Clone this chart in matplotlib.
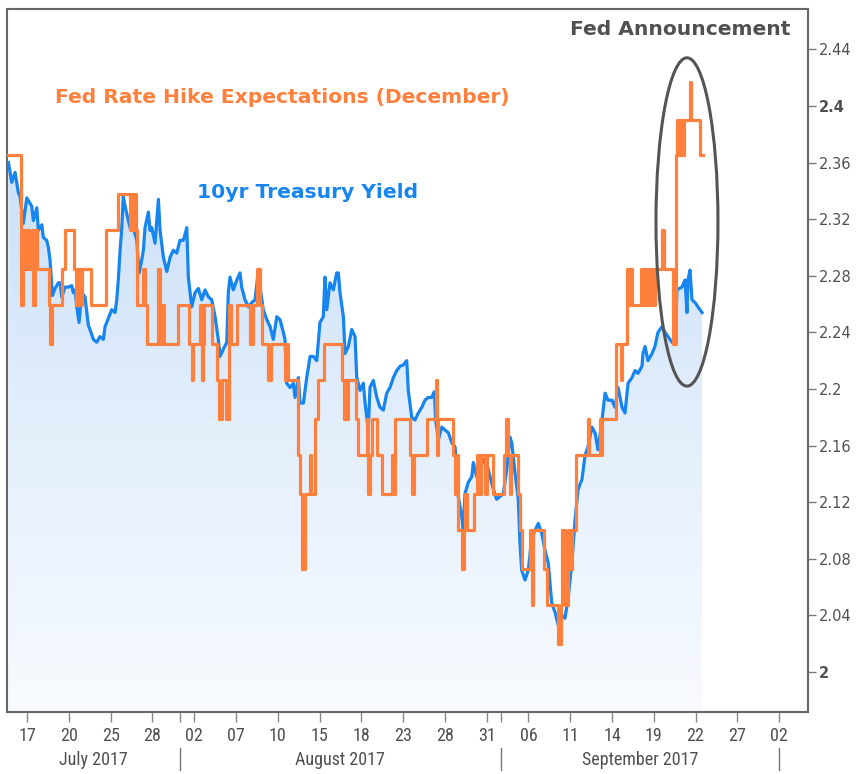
import numpy as np
import matplotlib
matplotlib.use('Agg')
import matplotlib.pyplot as plt
from matplotlib.patches import Ellipse, Polygon
from matplotlib.colors import LinearSegmentedColormap
from matplotlib import font_manager
import matplotlib.transforms as mtransforms

# time axis: business days, 0 = Mon 17 Jul 2017 (Labor Day not counted)
yield_t = [-1.34, -1.10, -0.86, -0.63, -0.50, -0.27, -0.02, 0.34, 0.45, 0.70,
           0.81, 1.06, 1.17, 1.41, 1.53, 1.65, 1.82, 2.01, 2.25, 2.37,
           2.49, 2.73, 2.97, 3.21, 3.32, 3.45, 3.57, 3.73, 3.93, 4.16,
           4.29, 4.40, 4.52, 4.76, 5.00, 5.24, 5.48, 5.60, 5.84, 6.08,
           6.32, 6.44, 6.55, 6.68, 6.80, 6.91, 7.04, 7.27, 7.39, 7.63,
           7.88, 8.04, 8.23, 8.35, 8.47, 8.71, 8.83, 8.95, 9.19, 9.43,
           9.55, 9.79, 10.03, 10.27, 10.50, 10.75, 10.98, 11.22, 11.47, 11.58,
           11.82, 12.06, 12.30, 12.54, 12.78, 13.02, 13.26, 13.50, 13.73, 13.86,
           14.09, 14.34, 14.45, 14.57, 14.81, 15.06, 15.29, 15.41, 15.65, 15.89,
           16.13, 16.37, 16.61, 16.73, 16.96, 17.21, 17.45, 17.68, 17.93, 18.16,
           18.40, 18.52, 18.64, 18.88, 19.12, 19.24, 19.48, 19.60, 19.84, 20.08,
           20.32, 20.55, 20.80, 21.03, 21.27, 21.39, 21.52, 21.75, 21.99, 22.23,
           22.35, 22.47, 22.71, 22.83, 23.07, 23.31, 23.55, 23.67, 23.91, 24.14,
           24.27, 24.50, 24.62, 24.86, 25.11, 25.34, 25.58, 25.82, 26.06, 26.30,
           26.54, 26.78, 27.02, 27.26, 27.37, 27.62, 27.85, 28.09, 28.34, 28.57,
           28.81, 29.05, 29.24, 29.34, 29.53, 29.77, 30.01, 30.25, 30.49, 30.73,
           30.85, 30.96, 31.21, 31.32, 31.44, 31.68, 31.93, 32.04, 32.28, 32.52,
           32.76, 33.00, 33.24, 33.48, 33.72, 33.96, 34.19, 34.44, 34.67, 34.80,
           35.03, 35.27, 35.39, 35.51, 35.75, 35.99, 36.23, 36.47, 36.71, 36.95,
           37.19, 37.42, 37.67, 37.91, 38.14, 38.39, 38.62, 38.84, 39.13, 39.34,
           39.56, 39.84, 40.06, 40.27, 40.56, 40.78, 40.99, 41.28, 41.50, 41.71,
           42.00, 42.21, 42.43, 42.72, 42.93, 43.15, 43.43, 43.65, 43.86, 44.15,
           44.22, 44.37, 44.58, 44.87, 45.08, 45.30, 45.59, 45.80, 46.02, 46.30,
           46.52, 46.66, 47.02, 47.24, 47.38, 47.45, 47.60, 47.74, 47.96, 48.17,
           48.46]
yield_v = [2.360, 2.346, 2.353, 2.339, 2.336, 2.317, 2.335, 2.329, 2.319, 2.328,
           2.312, 2.316, 2.307, 2.305, 2.300, 2.291, 2.266, 2.271, 2.275, 2.275,
           2.265, 2.272, 2.272, 2.273, 2.268, 2.270, 2.258, 2.247, 2.268, 2.265,
           2.254, 2.245, 2.242, 2.235, 2.233, 2.237, 2.235, 2.244, 2.250, 2.256,
           2.254, 2.263, 2.277, 2.298, 2.314, 2.336, 2.329, 2.319, 2.314, 2.314,
           2.305, 2.282, 2.291, 2.298, 2.314, 2.325, 2.312, 2.314, 2.303, 2.334,
           2.312, 2.293, 2.283, 2.293, 2.298, 2.296, 2.305, 2.305, 2.314, 2.279,
           2.258, 2.268, 2.271, 2.263, 2.270, 2.265, 2.263, 2.251, 2.235, 2.223,
           2.228, 2.233, 2.268, 2.279, 2.270, 2.277, 2.282, 2.272, 2.263, 2.258,
           2.261, 2.263, 2.284, 2.272, 2.256, 2.249, 2.244, 2.235, 2.251, 2.249,
           2.240, 2.235, 2.204, 2.201, 2.204, 2.194, 2.208, 2.190, 2.190, 2.208,
           2.223, 2.223, 2.220, 2.247, 2.251, 2.279, 2.256, 2.275, 2.270, 2.282,
           2.282, 2.268, 2.251, 2.225, 2.230, 2.242, 2.237, 2.208, 2.199, 2.204,
           2.190, 2.171, 2.201, 2.206, 2.194, 2.187, 2.185, 2.197, 2.201, 2.208,
           2.213, 2.216, 2.217, 2.220, 2.199, 2.180, 2.178, 2.183, 2.187, 2.192,
           2.194, 2.194, 2.198, 2.178, 2.164, 2.173, 2.171, 2.169, 2.162, 2.159,
           2.143, 2.124, 2.110, 2.100, 2.126, 2.134, 2.138, 2.148, 2.138, 2.143,
           2.150, 2.148, 2.138, 2.129, 2.122, 2.124, 2.126, 2.143, 2.166, 2.162,
           2.141, 2.122, 2.091, 2.072, 2.065, 2.072, 2.095, 2.100, 2.105, 2.098,
           2.086, 2.077, 2.049, 2.042, 2.033, 2.040, 2.038, 2.051, 2.079, 2.107,
           2.129, 2.136, 2.153, 2.159, 2.173, 2.169, 2.157, 2.178, 2.197, 2.192,
           2.192, 2.187, 2.201, 2.187, 2.183, 2.204, 2.208, 2.213, 2.211, 2.216,
           2.225, 2.230, 2.220, 2.225, 2.230, 2.240, 2.244, 2.240, 2.237, 2.233,
           2.232, 2.270, 2.272, 2.277, 2.254, 2.277, 2.284, 2.263, 2.261, 2.258,
           2.254]

# implied rate, step changes (value holds until next time)
hike_t = [-1.36, -0.43, -0.32, -0.14, 0.00, 0.14, 0.34, 0.43, 0.57, 0.72,
          1.54, 1.65, 1.76, 2.51, 2.76, 3.34, 3.48, 3.63, 3.77, 3.91,
          4.56, 5.64, 6.50, 7.39, 7.50, 7.61, 7.72, 7.82, 7.90, 8.29,
          8.44, 8.61, 9.40, 9.58, 9.69, 9.84, 10.84, 11.63, 11.81, 11.92,
          12.42, 12.53, 12.63, 12.74, 13.28, 13.64, 13.75, 14.00, 14.29, 14.50,
          14.64, 15.08, 16.01, 16.22, 16.48, 16.69, 16.87, 17.30, 17.55, 18.52,
          18.59, 18.74, 19.45, 19.60, 19.74, 19.96, 20.32, 20.42, 20.68, 20.89,
          21.32, 22.61, 22.72, 22.83, 22.94, 23.04, 23.62, 23.73, 24.41, 24.48,
          24.62, 24.77, 25.13, 25.49, 26.20, 26.31, 26.42, 27.50, 27.64, 27.75,
          28.72, 29.36, 29.43, 29.54, 30.58, 30.69, 30.83, 30.94, 31.23, 31.34,
          31.44, 31.59, 32.09, 32.31, 32.45, 32.59, 32.88, 33.02, 33.45, 34.24,
          34.42, 34.53, 34.67, 34.78, 35.25, 35.39, 35.50, 36.11, 36.22, 36.32,
          37.11, 37.33, 38.12, 38.34, 38.44, 38.62, 38.84, 38.98, 39.16, 39.38,
          40.27, 40.38, 41.13, 41.24, 41.31, 42.25, 42.64, 42.75, 43.07, 43.18,
          43.29, 43.43, 44.08, 44.19, 44.29, 44.40, 44.51, 44.65, 44.80, 44.94,
          45.08, 45.59, 45.76, 46.41, 46.59, 46.70, 46.80, 46.95, 47.02, 47.20,
          47.60, 47.70, 48.31, 48.53]
hike_v = [2.365, 2.259, 2.312, 2.285, 2.312, 2.285, 2.312, 2.259, 2.312, 2.285,
          2.259, 2.232, 2.259, 2.285, 2.312, 2.285, 2.259, 2.285, 2.259, 2.285,
          2.259, 2.312, 2.338, 2.312, 2.338, 2.312, 2.338, 2.312, 2.259, 2.285,
          2.259, 2.232, 2.285, 2.232, 2.259, 2.232, 2.259, 2.232, 2.206, 2.232,
          2.259, 2.206, 2.232, 2.259, 2.232, 2.206, 2.179, 2.206, 2.179, 2.259,
          2.232, 2.259, 2.232, 2.259, 2.285, 2.259, 2.232, 2.206, 2.232, 2.206,
          2.232, 2.206, 2.153, 2.126, 2.073, 2.126, 2.153, 2.126, 2.179, 2.206,
          2.232, 2.206, 2.179, 2.206, 2.179, 2.206, 2.179, 2.153, 2.179, 2.126,
          2.153, 2.179, 2.153, 2.126, 2.153, 2.126, 2.179, 2.153, 2.126, 2.153,
          2.179, 2.206, 2.153, 2.179, 2.153, 2.126, 2.153, 2.100, 2.073, 2.100,
          2.126, 2.100, 2.126, 2.153, 2.126, 2.153, 2.126, 2.153, 2.126, 2.153,
          2.179, 2.153, 2.126, 2.153, 2.126, 2.100, 2.073, 2.100, 2.047, 2.100,
          2.073, 2.047, 2.020, 2.047, 2.100, 2.047, 2.100, 2.073, 2.100, 2.153,
          2.179, 2.153, 2.179, 2.153, 2.179, 2.232, 2.206, 2.232, 2.285, 2.259,
          2.285, 2.259, 2.285, 2.259, 2.285, 2.259, 2.285, 2.259, 2.285, 2.259,
          2.285, 2.312, 2.285, 2.232, 2.365, 2.390, 2.365, 2.390, 2.365, 2.390,
          2.417, 2.390, 2.365, 2.365]

tick_pos = list(range(0, 55, 3))
tick_labels = ['17', '20', '25', '28', '02', '07', '10', '15', '18', '23',
               '28', '31', '06', '11', '14', '19', '22', '27', '02']
month_starts = [11, 34, 54]
month_names = ['July 2017', 'August 2017', 'September 2017']
y_ticks = [2.0, 2.04, 2.08, 2.12, 2.16, 2.2, 2.24, 2.28, 2.32, 2.36, 2.4, 2.44]

blue = '#1685f0'
orange = '#ff7f3c'
grey = '#505050'

# a narrow face for the date labels, if one is installed
installed = {f.name for f in font_manager.fontManager.ttflist}
narrow = [f for f in ['Liberation Sans Narrow', 'Roboto Condensed', 'Open Sans Condensed',
                      'Noto Sans Condensed'] if f in installed] + ['DejaVu Sans']
condensed = {f.name for f in font_manager.fontManager.ttflist
             if f.name == 'DejaVu Sans' and f.stretch == 'condensed'}

xmin, xmax = -1.44, 56.07
ymin, ymax = 1.9717, 2.4685

fig = plt.figure(figsize=(8.59, 7.74), dpi=100, facecolor='w')
ax = fig.add_axes([7/859, 1 - 712/774, 801/859, 703/774])
ax.set_xlim(xmin, xmax)
ax.set_ylim(ymin, ymax)

# gradient fill under the yield line
verts = np.column_stack([np.r_[yield_t[0], yield_t, yield_t[-1]],
                         np.r_[ymin, yield_v, ymin]])
poly = Polygon(verts, closed=True, facecolor='none', edgecolor='none')
ax.add_patch(poly)
cmap = LinearSegmentedColormap.from_list('fade', ['#f8fbff', '#e4effc', '#cbe0f8'])
grad = np.linspace(0, 1, 256).reshape(-1, 1)
im = ax.imshow(grad, extent=[yield_t[0], yield_t[-1], ymin, max(yield_v)],
               origin='lower', aspect='auto', cmap=cmap, zorder=1)
im.set_clip_path(poly)

ax.plot(yield_t, yield_v, color=blue, lw=2.3, zorder=3)
ax.plot(hike_t, hike_v, color=orange, lw=2.3, drawstyle='steps-post', zorder=4)

ax.add_patch(Ellipse((47.38, 2.318), 4.45, 0.232, fill=False,
                     edgecolor='#555555', lw=2.2, zorder=5))

ax.text(2.0, 2.406, 'Fed Rate Hike Expectations (December)', color=orange,
        fontsize=14.6, fontweight='bold', va='center', ha='left')
ax.text(12.2, 2.339, '10yr Treasury Yield', color=blue,
        fontsize=14.6, fontweight='bold', va='center', ha='left')
ax.text(54.8, 2.454, 'Fed Announcement', color=grey,
        fontsize=14.6, fontweight='bold', va='center', ha='right')

# right value axis
ax.yaxis.tick_right()
ax.set_yticks(y_ticks)
ax.set_yticklabels([f'{v:g}' for v in y_ticks])
ax.tick_params(axis='y', direction='out', length=6, width=1, color='#777777',
               labelsize=10.5, labelcolor=grey, pad=2)
for lab, v in zip(ax.get_yticklabels(), y_ticks):
    if v in (2.0, 2.4):
        lab.set_fontweight('bold')

# business-day axis
stretch = 'condensed' if condensed else 'normal'
xsize = 13 if (narrow[0] != 'DejaVu Sans' or condensed) else 11.5
ax.set_xticks(tick_pos)
ax.set_xticklabels(tick_labels, family=narrow, fontstretch=stretch)
ax.set_xticks(month_starts[:2], minor=True)
ax.tick_params(axis='x', which='both', direction='out', length=7, width=1,
               color='#888888', labelsize=xsize, labelcolor=grey, pad=4)

for s in ax.spines.values():
    s.set_color('#666666')
    s.set_linewidth(1.5)

trans = mtransforms.blended_transform_factory(ax.transData, ax.transAxes)
for m in month_starts:
    ax.plot([m, m], [-0.051, -0.083], transform=trans, color='#777777',
            lw=1, clip_on=False)
edges = [xmin] + month_starts
for name, a, b in zip(month_names, edges[:-1], edges[1:]):
    ax.text((a + b) / 2, -0.068, name, transform=trans, ha='center', va='center',
            fontsize=xsize, color=grey, family=narrow, fontstretch=stretch)

plt.savefig('out.png', dpi=100)
plt.close('all')
